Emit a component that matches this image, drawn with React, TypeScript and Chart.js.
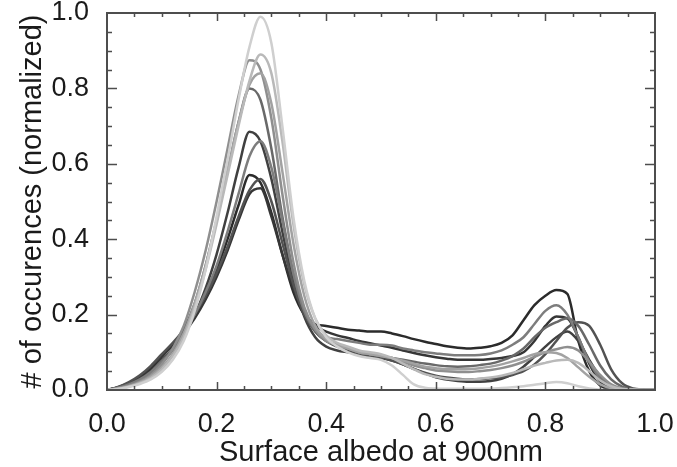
import React, { useEffect, useRef } from "react";
import { Chart, registerables } from "chart.js";

Chart.register(...registerables);

// Surface albedo bins (x values)
const albedo = [
  0.0, 0.02, 0.04, 0.06, 0.08, 0.1, 0.12, 0.14, 0.16, 0.18,
  0.2, 0.22, 0.24, 0.26, 0.28, 0.3, 0.32, 0.34, 0.36, 0.38,
  0.4, 0.42, 0.44, 0.46, 0.48, 0.5, 0.52, 0.54, 0.56, 0.58,
  0.6, 0.62, 0.64, 0.66, 0.68, 0.7, 0.72, 0.74, 0.76, 0.78,
  0.8, 0.82, 0.84, 0.86, 0.88, 0.9, 0.92, 0.94, 0.96, 0.98, 1.0,
];

const curveA = [
  0, 0.003, 0.008, 0.016, 0.028, 0.048, 0.08, 0.13, 0.21, 0.32,
  0.46, 0.61, 0.77, 0.91, 0.99, 0.92, 0.7, 0.46, 0.29, 0.19,
  0.14, 0.115, 0.1, 0.09, 0.085, 0.08, 0.065, 0.04, 0.015, 0.006,
  0.004, 0.003, 0.003, 0.003, 0.003, 0.004, 0.005, 0.007, 0.01, 0.014,
  0.018, 0.021, 0.018, 0.01, 0.004, 0.001, 0, 0, 0, 0, 0,
];
const curveB = [
  0, 0.003, 0.009, 0.018, 0.032, 0.055, 0.09, 0.14, 0.22, 0.32,
  0.44, 0.57, 0.7, 0.82, 0.89, 0.84, 0.66, 0.44, 0.28, 0.19,
  0.145, 0.125, 0.115, 0.105, 0.1, 0.095, 0.085, 0.07, 0.055, 0.042,
  0.035, 0.03, 0.028, 0.028, 0.03, 0.033, 0.038, 0.045, 0.055, 0.065,
  0.072, 0.078, 0.08, 0.072, 0.05, 0.025, 0.01, 0.003, 0.001, 0, 0,
];
const curveC = [
  0, 0.004, 0.011, 0.022, 0.04, 0.068, 0.11, 0.17, 0.26, 0.37,
  0.5, 0.64, 0.78, 0.875, 0.85, 0.72, 0.52, 0.34, 0.22, 0.16,
  0.13, 0.12, 0.11, 0.1, 0.095, 0.09, 0.085, 0.075, 0.065, 0.058,
  0.052, 0.05, 0.048, 0.048, 0.05, 0.053, 0.058, 0.065, 0.075, 0.088,
  0.1, 0.108, 0.114, 0.105, 0.075, 0.04, 0.015, 0.004, 0.001, 0, 0,
];
const curveD = [
  0, 0.004, 0.01, 0.02, 0.036, 0.06, 0.095, 0.15, 0.23, 0.33,
  0.45, 0.58, 0.71, 0.81, 0.84, 0.76, 0.58, 0.39, 0.25, 0.17,
  0.135, 0.12, 0.11, 0.1, 0.095, 0.09, 0.085, 0.078, 0.07, 0.062,
  0.058, 0.055, 0.055, 0.056, 0.058, 0.062, 0.068, 0.076, 0.085, 0.095,
  0.1, 0.098, 0.085, 0.06, 0.035, 0.015, 0.005, 0.001, 0, 0, 0,
];
const curveE = [
  0, 0.005, 0.013, 0.025, 0.045, 0.075, 0.11, 0.16, 0.23, 0.33,
  0.45, 0.58, 0.71, 0.8, 0.77, 0.64, 0.46, 0.31, 0.21, 0.155,
  0.13, 0.118, 0.11, 0.1, 0.095, 0.09, 0.085, 0.08, 0.075, 0.07,
  0.066, 0.063, 0.062, 0.063, 0.066, 0.07, 0.078, 0.09, 0.11, 0.14,
  0.165, 0.18, 0.19, 0.17, 0.12, 0.065, 0.028, 0.009, 0.002, 0, 0,
];
const curveF = [
  0, 0.006, 0.016, 0.03, 0.05, 0.078, 0.11, 0.15, 0.2, 0.27,
  0.36, 0.47, 0.59, 0.685, 0.66, 0.56, 0.42, 0.29, 0.195, 0.14,
  0.115, 0.105, 0.1, 0.095, 0.09, 0.085, 0.078, 0.068, 0.056, 0.044,
  0.034, 0.028, 0.024, 0.022, 0.022, 0.024, 0.03, 0.042, 0.062, 0.088,
  0.115, 0.14, 0.155, 0.13, 0.08, 0.035, 0.012, 0.003, 0, 0, 0,
];
const curveG = [
  0, 0.006, 0.015, 0.028, 0.048, 0.075, 0.105, 0.15, 0.2, 0.26,
  0.33, 0.42, 0.52, 0.62, 0.66, 0.59, 0.45, 0.31, 0.21, 0.16,
  0.14, 0.135, 0.13, 0.125, 0.12, 0.12, 0.118, 0.11, 0.105, 0.1,
  0.097, 0.094, 0.092, 0.092, 0.093, 0.097, 0.105, 0.12, 0.14, 0.175,
  0.21, 0.225, 0.2, 0.14, 0.075, 0.03, 0.01, 0.002, 0, 0, 0,
];
const curveH = [
  0, 0.007, 0.018, 0.034, 0.057, 0.088, 0.12, 0.155, 0.2, 0.255,
  0.32, 0.4, 0.49, 0.57, 0.55, 0.47, 0.36, 0.26, 0.2, 0.175,
  0.17, 0.165, 0.16, 0.158, 0.155, 0.155, 0.15, 0.143, 0.135, 0.128,
  0.122, 0.116, 0.112, 0.11, 0.112, 0.116, 0.125, 0.145, 0.185, 0.225,
  0.25, 0.265, 0.255, 0.13, 0.05, 0.012, 0.002, 0, 0, 0, 0,
];
const curveI = [
  0, 0.007, 0.019, 0.036, 0.06, 0.09, 0.12, 0.15, 0.19, 0.24,
  0.3, 0.37, 0.45, 0.52, 0.535, 0.46, 0.36, 0.27, 0.205, 0.17,
  0.155, 0.145, 0.138, 0.13, 0.124, 0.118, 0.112, 0.105, 0.098, 0.092,
  0.087, 0.083, 0.08, 0.08, 0.08, 0.082, 0.085, 0.09, 0.1, 0.13,
  0.17, 0.195, 0.19, 0.14, 0.07, 0.022, 0.005, 0, 0, 0, 0,
];
const curveJ = [
  0, 0.008, 0.021, 0.039, 0.064, 0.095, 0.125, 0.16, 0.2, 0.25,
  0.31, 0.38, 0.46, 0.53, 0.56, 0.5, 0.39, 0.28, 0.2, 0.155,
  0.13, 0.115, 0.105, 0.095, 0.09, 0.086, 0.078, 0.068, 0.056, 0.046,
  0.038, 0.033, 0.03, 0.028, 0.029, 0.031, 0.034, 0.04, 0.05, 0.068,
  0.095, 0.13, 0.165, 0.18, 0.17, 0.12, 0.055, 0.018, 0.004, 0.001, 0,
];

// drawn lightest first, darkest on top
const seriesValues = [curveA, curveB, curveD, curveC, curveG, curveE, curveJ, curveF, curveI, curveH];
const seriesColors = [
  "#cfcfcf", "#b9b9b9", "#a2a2a2", "#8f8f8f", "#7d7d7d",
  "#696969", "#525252", "#404040", "#363636", "#2b2b2b",
];

const xTitle = "Surface albedo at 900nm";
const yTitle = "# of occurences (normalized)";
const tickStep = 0.2;
const minorStep = 0.05;

const FONT = "'Liberation Sans', Arial, sans-serif";

const framePlugin = {
  id: "idlFrame",
  afterDatasetsDraw(chart: any) {
    const { ctx, chartArea, scales } = chart;
    const { left, right, top, bottom } = chartArea;
    const xs = scales.x;
    const ys = scales.y;
    ctx.save();
    ctx.strokeStyle = "#4d4d4d";
    ctx.lineWidth = 2;
    ctx.strokeRect(left, top, right - left, bottom - top);
    ctx.lineWidth = 1.5;
    ctx.beginPath();
    const n = Math.round(1 / minorStep);
    for (let i = 1; i < n; i++) {
      const v = i * minorStep;
      const major = i % 4 === 0;
      const px = Math.round(xs.getPixelForValue(v)) + 0.5;
      const lx = major ? 8 : 4;
      ctx.moveTo(px, bottom);
      ctx.lineTo(px, bottom - lx);
      ctx.moveTo(px, top);
      ctx.lineTo(px, top + lx);
      const py = Math.round(ys.getPixelForValue(v)) + 0.5;
      const ly = major ? 10 : 5;
      ctx.moveTo(left, py);
      ctx.lineTo(left + ly, py);
      ctx.moveTo(right, py);
      ctx.lineTo(right - ly, py);
    }
    ctx.stroke();
    ctx.restore();
  },
};

export default function App() {
  const canvasRef = useRef<HTMLCanvasElement | null>(null);

  useEffect(() => {
    const canvas = canvasRef.current;
    if (!canvas) return;
    const datasets = seriesValues.map((vals, i) => ({
      label: "s" + i,
      data: albedo.map((x, j) => ({ x, y: vals[j] })),
      borderColor: seriesColors[i],
      backgroundColor: seriesColors[i],
      borderWidth: 2.5,
      pointRadius: 0,
      tension: 0.4,
      cubicInterpolationMode: "monotone" as const,
      fill: false,
    }));
    const chart = new Chart(canvas, {
      type: "line",
      data: { datasets },
      plugins: [framePlugin],
      options: {
        animation: false,
        responsive: false,
        maintainAspectRatio: false,
        layout: { padding: { top: 13, right: 22, left: 0, bottom: 0 } },
        plugins: { legend: { display: false }, tooltip: { enabled: false } },
        scales: {
          x: {
            type: "linear",
            min: 0,
            max: 1,
            grid: { display: false },
            border: { display: false },
            ticks: {
              stepSize: tickStep,
              maxRotation: 0,
              autoSkip: false,
              padding: 10,
              color: "#1a1a1a",
              font: { family: FONT, size: 27 },
              callback: (v: any) => Number(v).toFixed(1),
            },
            title: {
              display: true,
              text: xTitle,
              color: "#1a1a1a",
              font: { family: FONT, size: 29, lineHeight: 1 },
              padding: { top: 0, bottom: 0 },
            },
            afterFit: (s: any) => {
              s.height = 77;
              s.paddingLeft = 0;
              s.paddingRight = 0;
            },
          },
          y: {
            type: "linear",
            min: 0,
            max: 1,
            grid: { display: false },
            border: { display: false },
            ticks: {
              stepSize: tickStep,
              padding: 10,
              color: "#1a1a1a",
              font: { family: FONT, size: 27 },
              callback: (v: any) => Number(v).toFixed(1),
            },
            title: {
              display: true,
              text: yTitle,
              color: "#1a1a1a",
              font: { family: FONT, size: 29, lineHeight: 1 },
              padding: { top: 18, bottom: 0 },
            },
            afterFit: (s: any) => {
              s.width = 107;
              s.paddingTop = 0;
              s.paddingBottom = 0;
            },
          },
        },
      },
    });
    return () => chart.destroy();
  }, []);

  return (
    <div style={{ position: "fixed", left: 0, top: 0, width: 677, height: 467, background: "#fff" }}>
      <canvas ref={canvasRef} width={677} height={467} style={{ display: "block" }} />
    </div>
  );
}
